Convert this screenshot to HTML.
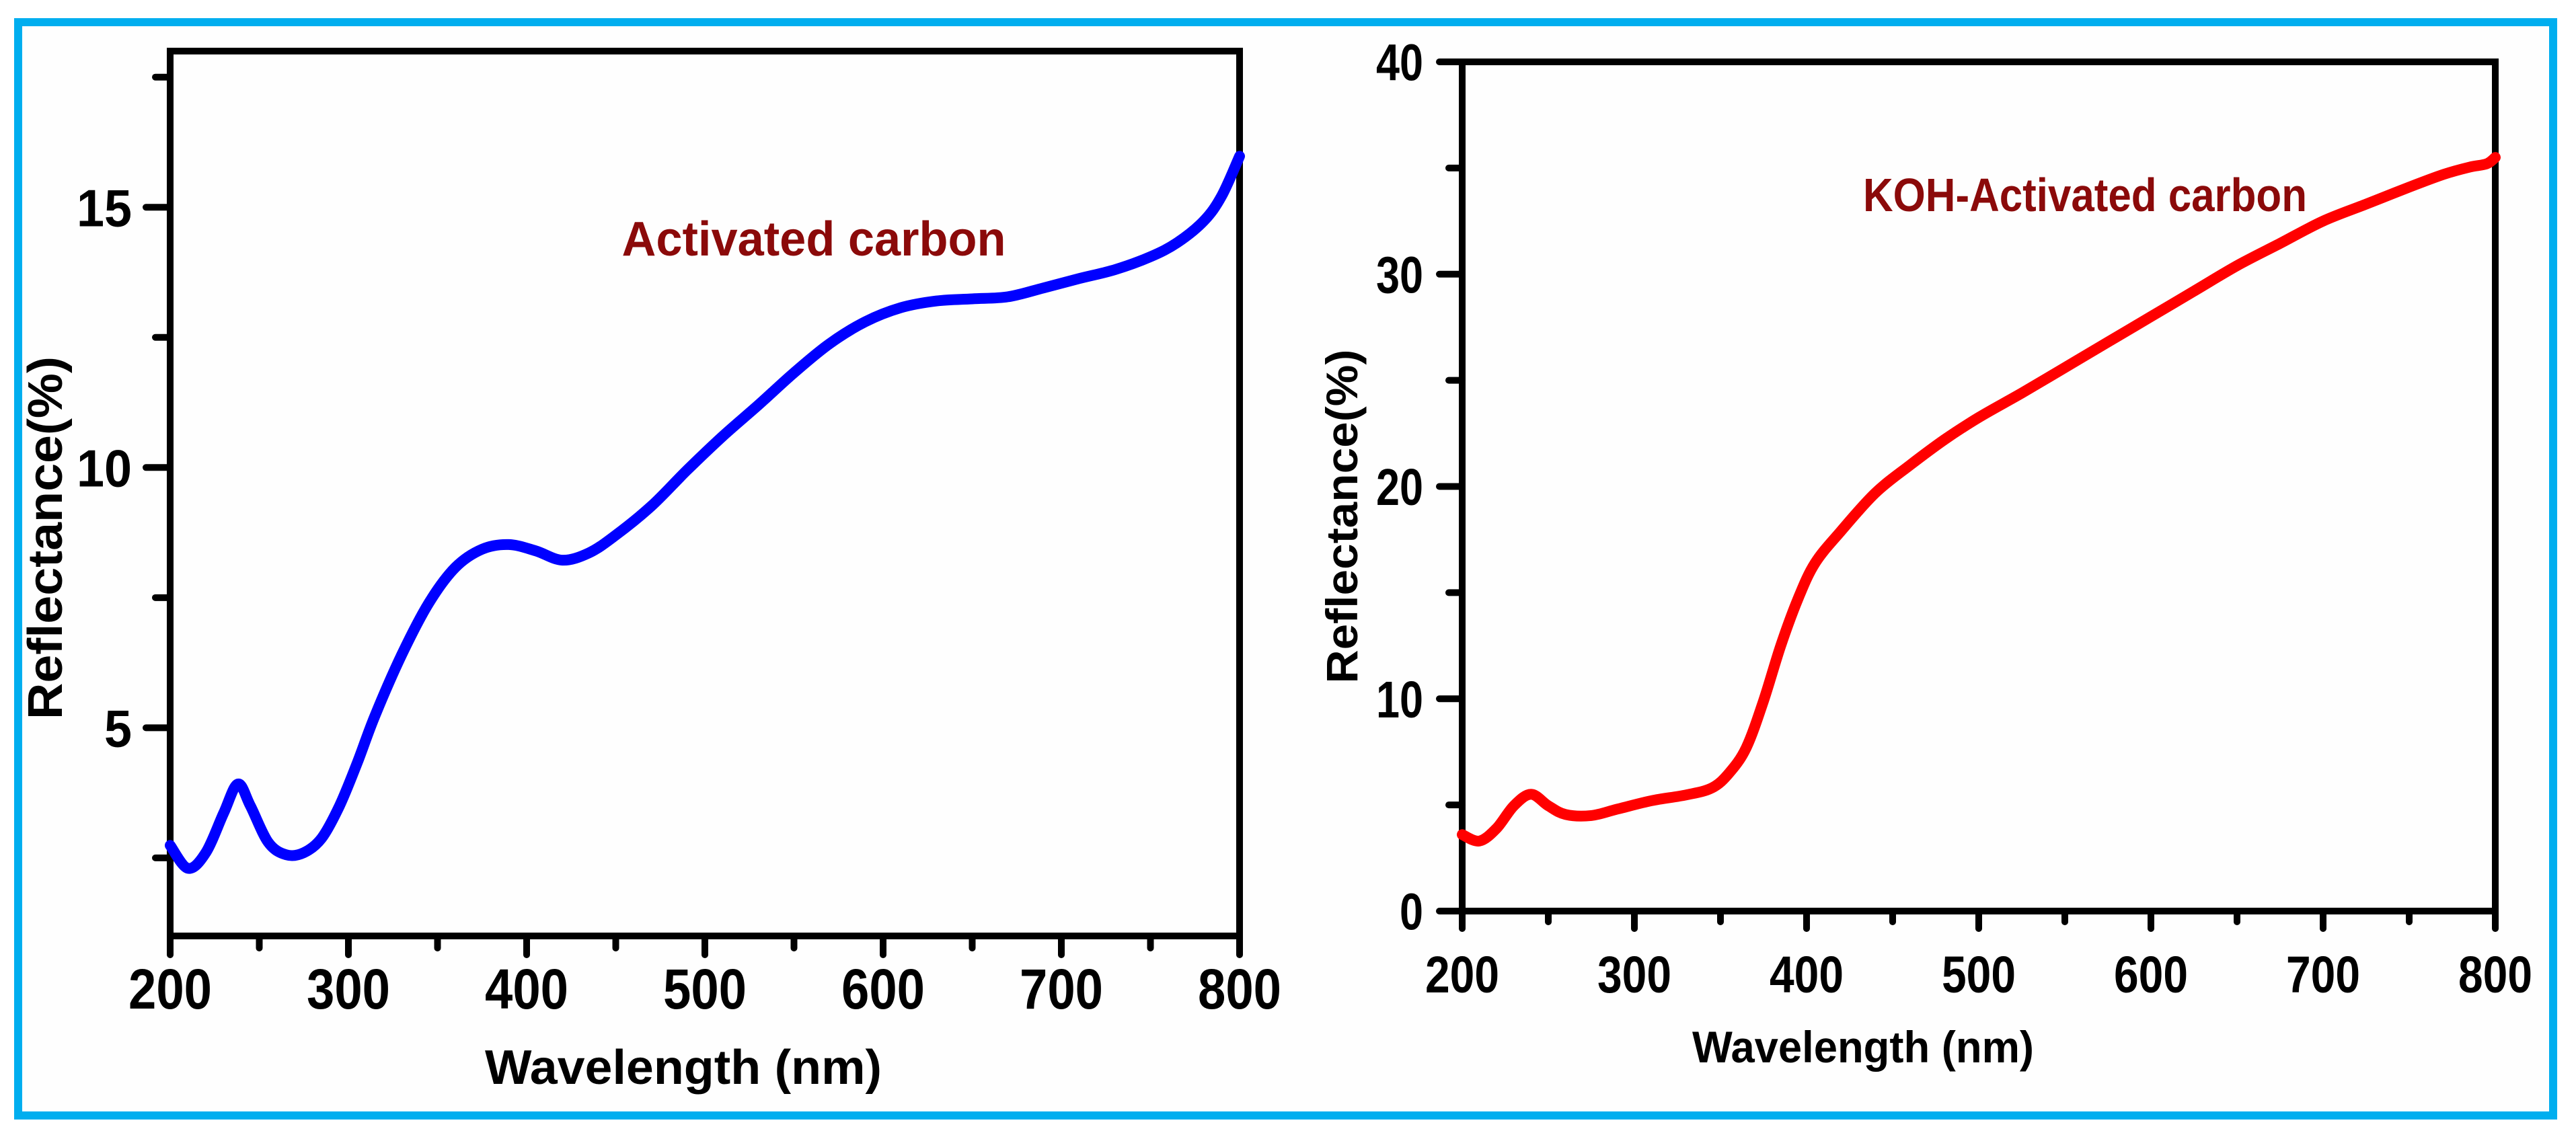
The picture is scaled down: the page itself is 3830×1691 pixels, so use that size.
<!DOCTYPE html>
<html><head><meta charset="utf-8">
<style>
html,body{margin:0;padding:0;background:#fff;}
svg{display:block;}
text{font-family:"Liberation Sans",sans-serif;font-weight:bold;}
</style></head>
<body>
<svg id="fig" width="3830" height="1691" viewBox="0 0 3830 1691" xmlns="http://www.w3.org/2000/svg">
<rect x="0" y="0" width="3830" height="1691" fill="#fff"/>
<rect x="27" y="33" width="3769" height="1626" fill="#fefefe" stroke="#00AEEF" stroke-width="12"/>
<g id="left"></g>
<g id="right"></g>
</svg>
<script>
const leftWavelengths = [200,210,220,230,238,245,255,265,275,285,295,305,315,330,345,360,375,390,405,420,435,450,470,490,510,530,550,570,590,610,630,650,670,690,710,730,750,765,780,790,800];
const leftReflectance = [2.74,2.3,2.6,3.36,3.92,3.5,2.8,2.56,2.6,2.88,3.5,4.33,5.24,6.41,7.39,8.08,8.43,8.52,8.4,8.22,8.36,8.7,9.26,9.95,10.6,11.2,11.82,12.38,12.8,13.07,13.2,13.24,13.28,13.45,13.63,13.8,14.05,14.32,14.74,15.22,15.98];
const leftYTicks = ["5","10","15"];
const rightWavelengths = [200,210,220,230,240,250,260,275,290,310,330,345,355,365,375,385,395,405,420,440,460,480,500,525,550,575,600,625,650,675,700,725,750,770,785,795,800];
const rightReflectance = [3.6,3.3,3.9,4.96,5.5,4.96,4.55,4.5,4.8,5.2,5.47,5.8,6.5,7.7,9.9,12.5,14.7,16.4,17.9,19.7,21.0,22.2,23.25,24.4,25.6,26.8,28.0,29.2,30.4,31.45,32.5,33.3,34.1,34.7,35.04,35.2,35.5];
const rightYTicks = ["0","10","20","30","40"];
const xTicks = ["200","300","400","500","600","700","800"];

const NS = "http://www.w3.org/2000/svg";
function mk(parent, tag, attrs, txt){
  const e = document.createElementNS(NS, tag);
  for (const k in attrs) e.setAttribute(k, attrs[k]);
  if (txt !== undefined) e.textContent = txt;
  parent.appendChild(e);
  return e;
}
function smoothPath(p){
  let d = 'M' + p[0][0].toFixed(1) + ',' + p[0][1].toFixed(1);
  for (let i = 0; i < p.length - 1; i++) {
    const p0 = p[Math.max(0, i-1)], p1 = p[i], p2 = p[i+1], p3 = p[Math.min(p.length-1, i+2)];
    const c1x = p1[0] + (p2[0]-p0[0])/6, c1y = p1[1] + (p2[1]-p0[1])/6;
    const c2x = p2[0] - (p3[0]-p1[0])/6, c2y = p2[1] - (p3[1]-p1[1])/6;
    d += ' C' + c1x.toFixed(1) + ',' + c1y.toFixed(1) + ' ' + c2x.toFixed(1) + ',' + c2y.toFixed(1) + ' ' + p2[0].toFixed(1) + ',' + p2[1].toFixed(1);
  }
  return d;
}

function drawChart(g, cfg){
  const sx = v => cfg.x0 + (v - 200) / 600 * (cfg.x1 - cfg.x0);
  const sy = v => cfg.yb - (v - cfg.ymin) / (cfg.ymax - cfg.ymin) * (cfg.yb - cfg.yt);
  const fr = mk(g, 'rect', {x:cfg.x0, y:cfg.yt, width:cfg.x1-cfg.x0, height:cfg.yb-cfg.yt, fill:'none', stroke:'#000', 'stroke-width':10});
  
  
  for (let w = 200; w <= 800; w += 50) {
    const major = w % 100 === 0;
    const t = mk(g, 'line', {x1:sx(w), x2:sx(w), y1:cfg.yb, y2:cfg.yb + (major ? cfg.majLen : cfg.minLen), stroke:'#000', 'stroke-width':10, 'stroke-linecap':'round'});
    
    
  }
  xTicks.forEach(lbl => {
    const v = +lbl;
    const t = mk(g, 'text', {x:sx(v), y:cfg.xLblY, 'text-anchor':'middle', 'font-size':cfg.xFont, textLength:cfg.xLblW, lengthAdjust:'spacingAndGlyphs', fill:'#000'}, lbl);
    
    
  });
  for (let v = cfg.ymin0; v <= cfg.ymax + 0.001; v += cfg.minorStep) {
    const major = Math.abs(v / cfg.majorStep - Math.round(v / cfg.majorStep)) < 1e-6;
    const t = mk(g, 'line', {x1:cfg.x0, x2:cfg.x0 - (major ? cfg.majLen + 8 : cfg.minLen + 4), y1:sy(v), y2:sy(v), stroke:'#000', 'stroke-width':10, 'stroke-linecap':'round'});
    
    
  }
  cfg.yTicks.forEach(lbl => {
    const v = +lbl;
    const t = mk(g, 'text', {x:cfg.yLblX, y:sy(v) + cfg.yFont*0.36, 'text-anchor':'end', 'font-size':cfg.yFont, textLength:cfg.yLblW*lbl.length/2, lengthAdjust:'spacingAndGlyphs', fill:'#000'}, lbl);
    
    
  });
  const xt = mk(g, 'text', {x:cfg.xTitleX, y:cfg.xTitleY, 'text-anchor':'middle', 'font-size':cfg.titleFont, textLength:cfg.xTitleW, lengthAdjust:'spacingAndGlyphs', fill:'#000'}, 'Wavelength (nm)');
  
  
  const yt = mk(g, 'text', {x:0, y:0, 'text-anchor':'middle', 'font-size':cfg.titleFont, textLength:cfg.yTitleW, lengthAdjust:'spacingAndGlyphs', fill:'#000', transform:`translate(${cfg.yTitleX},${cfg.yTitleY}) rotate(-90)`}, 'Reflectance(%)');
  
  
  const an = mk(g, 'text', {x:cfg.annX, y:cfg.annY, 'text-anchor':'middle', 'font-size':cfg.annFont, textLength:cfg.annW, lengthAdjust:'spacingAndGlyphs', fill:'#8B0A0A'}, cfg.annText);
  
  
  const pts = cfg.xs.map((w, i) => [sx(w), sy(cfg.ys[i])]);
  const pl = mk(g, 'path', {d:smoothPath(pts), fill:'none', stroke:cfg.color, 'stroke-width':16, 'stroke-linejoin':'round', 'stroke-linecap':'round'});
  
  
}

drawChart(document.getElementById('left'), {
  x0:253, x1:1843, yt:76, yb:1392, ymin:1, ymax:18, ymin0:2.5, minorStep:2.5, majorStep:5,
  majLen:28, minLen:18, xLblY:1500, xFont:84, xLblW:124, yLblX:196, yFont:78, yLblW:82,
  yTicks:leftYTicks, xTitleX:1016, xTitleY:1612, titleFont:72, xTitleW:590,
  yTitleX:92, yTitleY:800, yTitleW:540, annX:1210, annY:380, annFont:72, annW:571,
  annText:'Activated carbon', xs:leftWavelengths, ys:leftReflectance, color:'#0000FF'
});
drawChart(document.getElementById('right'), {
  x0:2174, x1:3710, yt:92, yb:1355, ymin:0, ymax:40, ymin0:0, minorStep:5, majorStep:10,
  majLen:26, minLen:16, xLblY:1476, xFont:77, xLblW:110, yLblX:2116, yFont:77, yLblW:70,
  yTicks:rightYTicks, xTitleX:2770, xTitleY:1580, titleFont:66, xTitleW:508,
  yTitleX:2018, yTitleY:768, yTitleW:497, annX:3100, annY:314, annFont:70, annW:660,
  annText:'KOH-Activated carbon', xs:rightWavelengths, ys:rightReflectance, color:'#FF0000'
});
</script>
</body></html>
